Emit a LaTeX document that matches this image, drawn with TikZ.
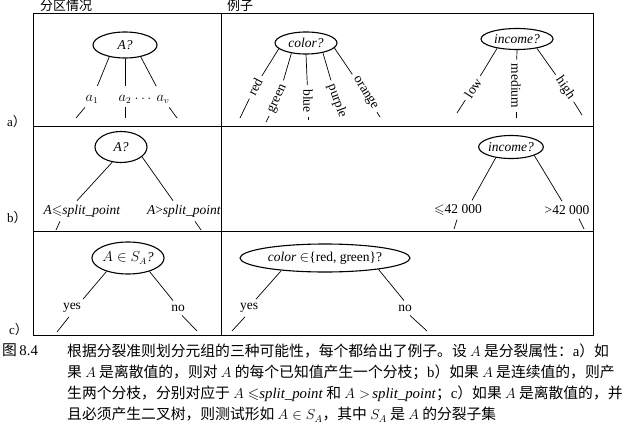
\documentclass[tikz,border=0pt]{standalone}
\usepackage{fontspec}
\usepackage{amssymb}
\setmainfont{Liberation Serif}
\newfontfamily\cjk{Noto Sans CJK SC}
\usetikzlibrary{shapes.geometric}

\begin{document}
\begin{tikzpicture}[x=1pt,y=-1pt,
    pregunta/.style={draw,ellipse,line width=1.1pt,inner sep=0pt,font=\fontsize{13.5}{15}\selectfont\itshape},
    rama/.style={inner sep=4pt,font=\fontsize{13.5}{15}\selectfont},
    linea/.style={line width=0.7pt},
    titulo/.style={inner sep=0pt,font=\cjk\fontsize{13}{15}\selectfont}]
    \useasboundingbox (0,0) rectangle (628,431);

    % Marco y divisiones
    \draw[line width=0.8pt] (33,13) rectangle (593,335);
    \draw[line width=0.8pt] (33,126) -- (593,126);
    \draw[line width=0.8pt] (33,231) -- (593,231);
    \draw[line width=0.8pt] (221,13) -- (221,335);

    % Titulos y filas
    \node[titulo] (tpart) at (66,6) {分区情况};
    \node[titulo] (tej) at (240,6) {例子};
    \node[titulo,anchor=west] (fa) at (7,122) {\textrm{a}）};
    \node[titulo,anchor=west] (fb) at (7,218) {\textrm{b}）};
    \node[titulo,anchor=west] (fc) at (9,330) {\textrm{c}）};

    % a) Atributo discreto
    \node[pregunta,minimum width=64,minimum height=26] (qa) at (125,45) {A?};
    \node[rama] (a1) at (92,99) {$a_1$};
    \node[rama] (a2) at (125,99) {$a_2$};
    \node[rama] (av) at (163,99) {$a_v$};
    \node[rama] (pts) at (143,99) {$\dots$};
    \draw[linea,shorten >=5pt] (qa.217) -- (a1);
    \draw[linea,shorten >=5pt] (qa.270) -- (a2);
    \draw[linea,shorten >=5pt] (qa.323) -- (av);
    \coordinate (a1e) at (76,118);
    \coordinate (a2e) at (125,118);
    \coordinate (ave) at (177,118);
    \draw[linea] (a1) -- (a1e);
    \draw[linea] (a2) -- (a2e);
    \draw[linea] (av) -- (ave);

    % Ejemplo: color
    \node[pregunta,minimum width=62,minimum height=22] (qc) at (306,43) {color?};
    \foreach \nom/\ang/\x/\y/\rot in {red/192/255/87/62, green/215/278/99/65,
        blue/270/308/101/-90, purple/330/337/101/-70, orange/350/365/93/-58} {
        \node[rama,rotate=\rot] (\nom) at (\x,\y) {\nom};
        \draw[linea] (qc.\ang) -- (\nom);
    }
    \coordinate (rede) at (240,118);
    \coordinate (greene) at (266,122);
    \coordinate (bluee) at (308,120);
    \coordinate (orangee) at (380,117);
    \draw[linea] (red) -- (rede);
    \draw[linea] (green) -- (greene);
    \draw[linea] (blue) -- (bluee);
    \draw[linea] (orange) -- (orangee);

    % Ejemplo: income
    \node[pregunta,minimum width=72,minimum height=21] (qi) at (517,39) {income?};
    \foreach \nom/\ang/\x/\y/\rot in {low/205/473/88/57, medium/270/516/86/-90,
        high/335/565/88/-56} {
        \node[rama,rotate=\rot] (\nom) at (\x,\y) {\nom};
        \draw[linea] (qi.\ang) -- (\nom);
    }
    \coordinate (lowe) at (457,113);
    \coordinate (mediume) at (516,118);
    \coordinate (highe) at (582,115);
    \draw[linea] (low) -- (lowe);
    \draw[linea] (medium) -- (mediume);
    \draw[linea] (high) -- (highe);

    % b) Atributo continuo
    \node[pregunta,minimum width=52,minimum height=31] (qb) at (121,147) {A?};
    \node[rama] (lb1) at (82,211) {\textit{A}$\leqslant$\textit{split\_point}};
    \node[rama] (lb2) at (184,211) {\textit{A}>\textit{split\_point}};
    \draw[linea] (qb.240) -- ([xshift=-5pt]lb1.north);
    \draw[linea] (qb.335) -- ([xshift=-11pt]lb2.north);
    \coordinate (lb1e) at (56,230);
    \coordinate (lb2e) at (201,230);
    \draw[linea] ([xshift=-22pt]lb1.south) -- (lb1e);
    \draw[linea] ([xshift=11pt]lb2.south) -- (lb2e);

    % Ejemplo: income continuo
    \node[pregunta,minimum width=60,minimum height=23] (qi2) at (511,147) {income?};
    \node[rama] (li1) at (458,210) {$\leqslant$42 000};
    \node[rama] (li2) at (567,210) {>42 000};
    \draw[linea] (qi2.215) -- ([xshift=14pt]li1.north);
    \draw[linea] (qi2.340) -- ([xshift=-5pt]li2.north);
    \coordinate (li1e) at (454,229);
    \coordinate (li2e) at (584,229);
    \draw[linea] ([xshift=-1pt]li1.south) -- (li1e);
    \draw[linea] ([xshift=12pt]li2.south) -- (li2e);

    % c) Discreto con arbol binario
    \node[pregunta,minimum width=63,minimum height=32] (qs) at (128,258) {$A\in S_A$?};
    \node[rama] (ly1) at (72,308) {yes};
    \node[rama] (ln1) at (178,308) {no};
    \draw[linea] (qs.212) -- ([xshift=11pt]ly1.north);
    \draw[linea] (qs.328) -- ([xshift=-5pt]ln1.north);
    \coordinate (ly1e) at (57,332);
    \coordinate (ln1e) at (197,331);
    \draw[linea] ([xshift=-3pt]ly1.south) -- (ly1e);
    \draw[linea] ([xshift=4pt]ln1.south) -- (ln1e);

    % Ejemplo: color binario
    \node[pregunta,minimum width=170,minimum height=28] (qcc) at (325,258) {color \upshape$\in$\{red, green\}?};
    \node[rama] (ly2) at (249,308) {yes};
    \node[rama] (ln2) at (405,308) {no};
    \draw[linea] (qcc.196) -- ([xshift=7pt]ly2.north);
    \draw[linea] (qcc.348) -- ([xshift=-1pt]ln2.north);
    \coordinate (ly2e) at (232,331);
    \coordinate (ln2e) at (427,331);
    \draw[linea] ([xshift=-4pt]ly2.south) -- (ly2e);
    \draw[linea] ([xshift=5pt]ln2.south) -- (ln2e);

    % Pie de figura
    \node[anchor=north west,inner sep=0pt,font=\cjk\fontsize{14.8}{21}\selectfont] (fig) at (2,344) {图\,\textrm{8.4}};
    \node[anchor=north west,inner sep=0pt,align=left,font=\cjk\fontsize{14.8}{21}\selectfont] (cap) at (67,344)
        {根据分裂准则划分元组的三种可能性，每个都给出了例子。设 $A$ 是分裂属性：\textrm{a}）如\\
         果 $A$ 是离散值的，则对 $A$ 的每个已知值产生一个分枝；\textrm{b}）如果 $A$ 是连续值的，则产\\
         生两个分枝，分别对应于 $A\leqslant$\textit{\textrm{split\_point}} 和 $A>$\,\textrm{\itshape split\_point}；\textrm{c}）如果 $A$ 是离散值的，并\\
         且必须产生二叉树，则测试形如 $A\in S_A$，其中 $S_A$ 是 $A$ 的分裂子集};
\end{tikzpicture}
\end{document}
